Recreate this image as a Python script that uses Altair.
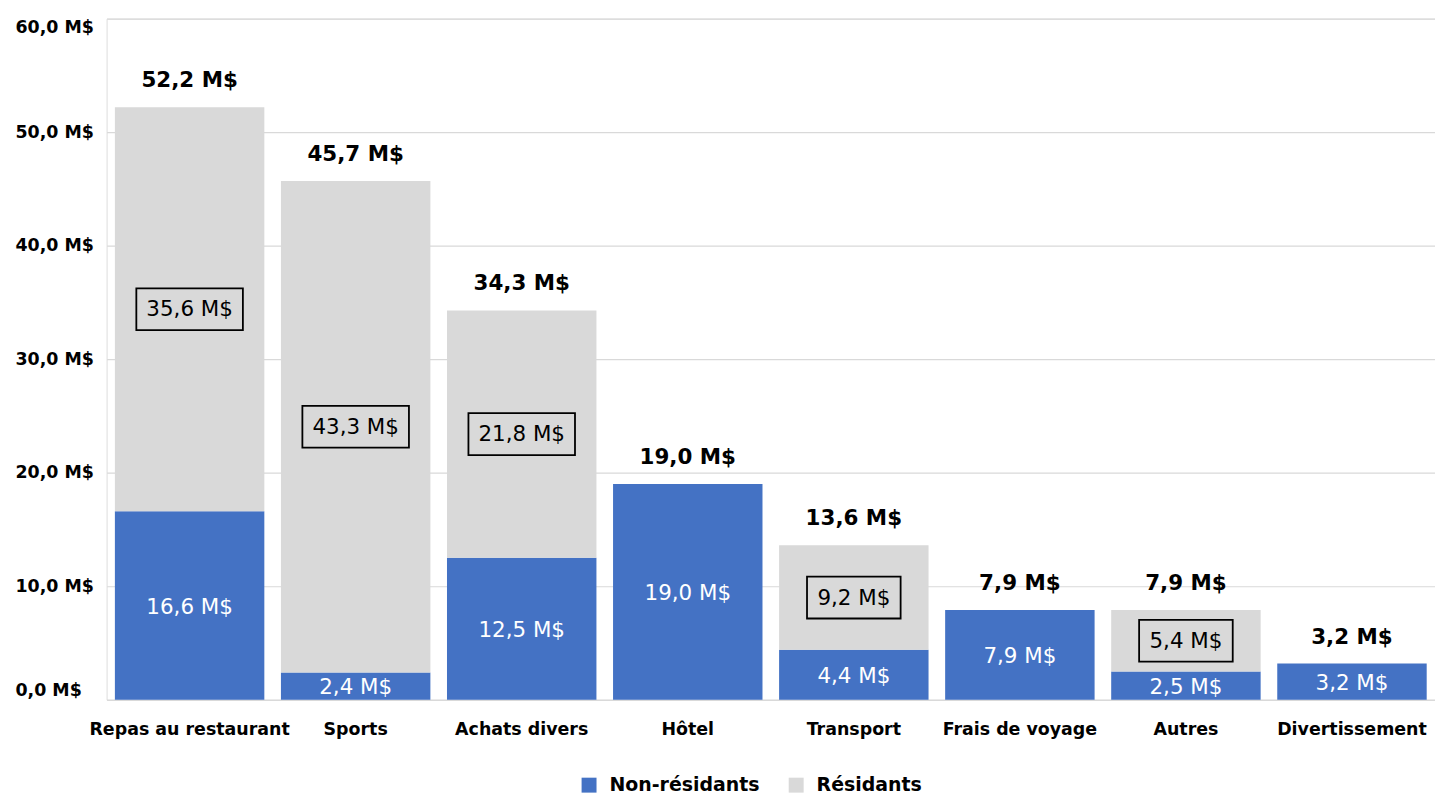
import altair as alt
import pandas as pd

categories = ["Repas au restaurant", "Sports", "Achats divers", "Hôtel",
              "Transport", "Frais de voyage", "Autres", "Divertissement"]
non_residents = [16.6, 2.4, 12.5, 19.0, 4.4, 7.9, 2.5, 3.2]
residents = [35.6, 43.3, 21.8, 0.0, 9.2, 0.0, 5.4, 0.0]
totals = [52.2, 45.7, 34.3, 19.0, 13.6, 7.9, 7.9, 3.2]
series = ["Non-résidants", "Résidants"]
y_ticks = [0, 10, 20, 30, 40, 50, 60]

BLUE = "#4472C4"
GRAY = "#D9D9D9"
FONT = "DejaVu Sans"


def fmt(v):
    return f"{v:.1f}".replace(".", ",") + " M$"


rows = []
for c, n, r in zip(categories, non_residents, residents):
    rows.append({"cat": c, "series": series[0], "value": n, "ord": 0})
    rows.append({"cat": c, "series": series[1], "value": r, "ord": 1})
bars_df = pd.DataFrame(rows)

nr_df = pd.DataFrame({
    "cat": categories,
    "mid": [n / 2 for n in non_residents],
    "label": [fmt(n) for n in non_residents],
})

res_df = pd.DataFrame({
    "cat": categories,
    "mid": [n + r / 2 for n, r in zip(non_residents, residents)],
    "val": residents,
    "label": [fmt(r) for r in residents],
})
res_df = res_df[res_df["val"] > 0].copy()
WIDE_BOX = "M-1,-0.3925H1V0.3925H-1Z"
NARROW_BOX = "M-0.8785,-0.3925H0.8785V0.3925H-0.8785Z"
res_df["box"] = [WIDE_BOX if len(s) > 6 else NARROW_BOX for s in res_df["label"]]

tot_df = pd.DataFrame({
    "cat": categories,
    "total": totals,
    "label": [fmt(t) for t in totals],
})

x_enc = alt.X("cat:N", sort=categories,
              scale=alt.Scale(paddingInner=0.1, paddingOuter=0.05),
              axis=alt.Axis(title=None, labelAngle=0, ticks=False, tickSize=0,
                            domain=True, domainColor=GRAY, domainWidth=1.2,
                            labelFont=FONT, labelFontSize=17.5, labelLimit=0,
                            labelFontWeight="bold", labelColor="black",
                            labelPadding=21, grid=False))

y_scale = alt.Scale(domain=[0, 60], nice=False)

bars = alt.Chart(bars_df).mark_bar().encode(
    x=x_enc,
    y=alt.Y("value:Q", stack="zero", scale=y_scale,
            axis=alt.Axis(title=None, values=y_ticks, ticks=False, tickSize=0,
                          domain=False, grid=True, gridColor=GRAY, gridWidth=1.2,
                          labelExpr="replace(format(datum.value, '.1f'), '.', ',') + ' M$'",
                          labelFont=FONT, labelFontSize=17.5, labelFontWeight="bold",
                          labelColor="black", labelAlign="left", labelPadding=92,
                          labelFlush=True, labelFlushOffset=0)),
    color=alt.Color("series:N",
                    scale=alt.Scale(domain=series, range=[BLUE, GRAY]),
                    legend=alt.Legend(title=None, orient="none", direction="horizontal",
                                      legendX=475, legendY=760, padding=0,
                                      symbolType="square", symbolSize=225,
                                      symbolStrokeWidth=0, labelFont=FONT,
                                      labelFontSize=19, labelFontWeight="bold",
                                      labelColor="black", labelOffset=11,
                                      columnPadding=27)),
    order=alt.Order("ord:Q"),
)

nr_text = alt.Chart(nr_df).mark_text(
    color="white", font=FONT, fontSize=21.5, baseline="middle", align="center", dy=2
).encode(x=alt.X("cat:N", sort=categories), y=alt.Y("mid:Q", scale=y_scale),
         text="label:N")

boxes = alt.Chart(res_df).mark_point(
    filled=False, stroke="black", strokeWidth=1.8, opacity=1, size=11449
).encode(x=alt.X("cat:N", sort=categories), y=alt.Y("mid:Q", scale=y_scale),
         shape=alt.Shape("box:N", scale=None))

res_text = alt.Chart(res_df).mark_text(
    color="black", font=FONT, fontSize=21.5, baseline="middle", align="center", dy=1
).encode(x=alt.X("cat:N", sort=categories), y=alt.Y("mid:Q", scale=y_scale),
         text="label:N")

tot_text = alt.Chart(tot_df).mark_text(
    color="black", font=FONT, fontSize=21.5, fontWeight="bold",
    baseline="alphabetic", align="center", dy=-20
).encode(x=alt.X("cat:N", sort=categories), y=alt.Y("total:Q", scale=y_scale),
         text="label:N")

chart = alt.layer(bars, nr_text, boxes, res_text, tot_text).properties(
    width=1334, height=684,
    autosize=alt.AutoSizeParams(type="none"),
    padding={"left": 99, "top": 9, "right": 0, "bottom": 100},
).configure_view(stroke=None).configure(background="white")

chart.save("out.html", embed_options={"renderer": "svg", "actions": False})
